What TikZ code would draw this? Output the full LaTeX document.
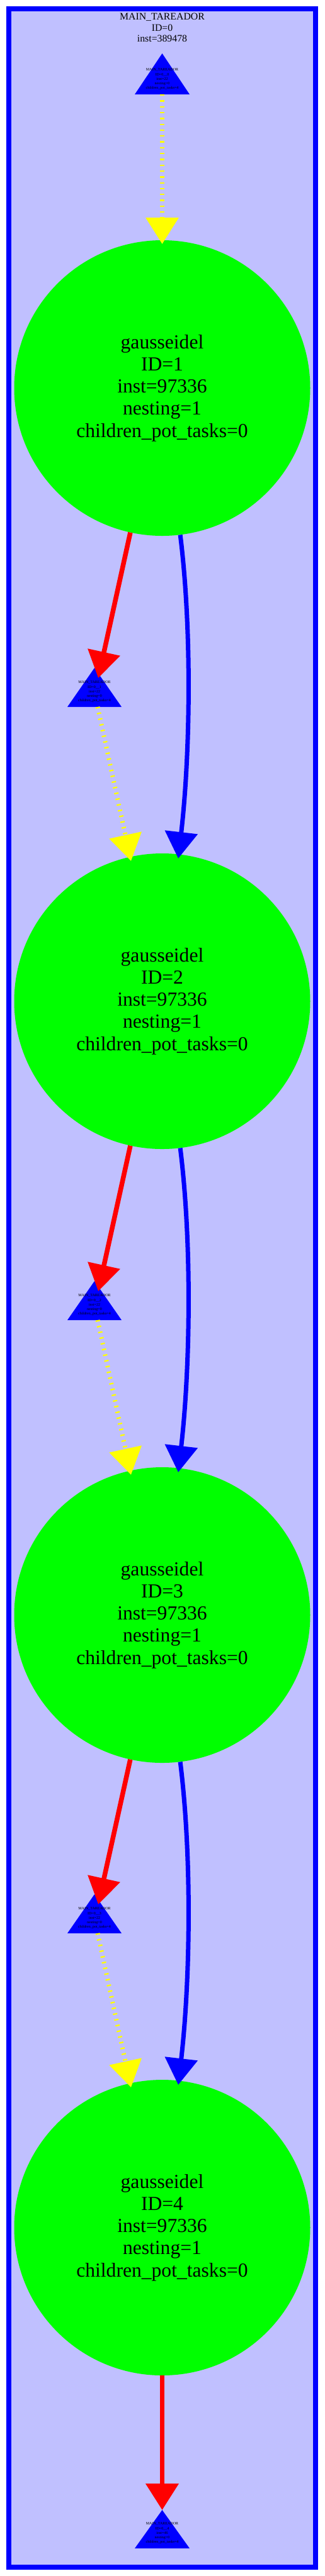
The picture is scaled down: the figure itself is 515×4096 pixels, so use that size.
\documentclass[tikz,border=0pt]{standalone}
\usepackage{fontspec}
\setmainfont{Liberation Serif}
\usetikzlibrary{arrows.meta}
\definecolor{lav}{RGB}{192,192,255}
\definecolor{pblue}{RGB}{0,0,255}
\definecolor{pgreen}{RGB}{0,255,0}
\definecolor{pred}{RGB}{255,0,0}
\definecolor{pyellow}{RGB}{255,255,0}
\begin{document}
\begin{tikzpicture}[x=1pt,y=-1pt,
 task/.style={circle, fill=pgreen, minimum size=470pt, inner sep=0pt, align=center, font=\fontsize{31.6}{35.3}\selectfont},
 trilabel/.style={inner sep=0pt, align=center, font=\fontsize{6}{7.3}\selectfont},
 tri/.style={fill=pblue},
 tipstyle/.style={-{Triangle[width=51pt,length=42pt]}},
 ctrl/.style={pred, line width=7.5pt, tipstyle},
 dep/.style={pblue, line width=7pt, tipstyle},
 sync/.style={pyellow, line width=7pt, dash pattern=on 2.3pt off 7pt, tipstyle},
]
\useasboundingbox (0,0) rectangle (515,4096);
\fill[white] (0,0) rectangle (515,4096);
\draw[pblue, line width=8pt, fill=lav] (14,14) rectangle (501,4082);
\node[inner sep=0pt, align=center, font=\fontsize{15.8}{17.5}\selectfont] (title) at (257.5,44) {MAIN\_TAREADOR\\ID=0\\inst=389478};

% triangles (MAIN_TAREADOR fragments)
\fill[tri] (214,150) -- (257.5,85) -- (301,150) -- cycle;
\fill[tri] (107,1124) -- (150,1062) -- (193,1124) -- cycle;
\fill[tri] (107,2099) -- (150,2037) -- (193,2099) -- cycle;
\fill[tri] (107,3074) -- (150,3012) -- (193,3074) -- cycle;
\fill[tri] (214,4052) -- (257.5,3991) -- (301,4052) -- cycle;
\node[trilabel] (t0) at (257.5,126) {MAIN\_TAREADOR\\ID=0\_\_0\\inst=22\\nesting=0\\children\_pot\_tasks=4};
\node[trilabel] (t1) at (150,1100) {MAIN\_TAREADOR\\ID=0\_\_1\\inst=22\\nesting=0\\children\_pot\_tasks=4};
\node[trilabel] (t2) at (150,2075) {MAIN\_TAREADOR\\ID=0\_\_2\\inst=22\\nesting=0\\children\_pot\_tasks=4};
\node[trilabel] (t3) at (150,3050) {MAIN\_TAREADOR\\ID=0\_\_3\\inst=22\\nesting=0\\children\_pot\_tasks=4};
\node[trilabel] (t4) at (257.5,4028) {MAIN\_TAREADOR\\ID=0\_\_4\\inst=46\\nesting=0\\children\_pot\_tasks=4};

% tasks
\node[task] (c1) at (257.5,617) {gausseidel\\ID=1\\inst=97336\\nesting=1\\children\_pot\_tasks=0};
\node[task] (c2) at (257.5,1592) {gausseidel\\ID=2\\inst=97336\\nesting=1\\children\_pot\_tasks=0};
\node[task] (c3) at (257.5,2568) {gausseidel\\ID=3\\inst=97336\\nesting=1\\children\_pot\_tasks=0};
\node[task] (c4) at (257.5,3542) {gausseidel\\ID=4\\inst=97336\\nesting=1\\children\_pot\_tasks=0};

% connector end points
\coordinate (t0b) at (257.5,150);
\coordinate (t1b) at (155,1124);
\coordinate (t2b) at (155,2099);
\coordinate (t3b) at (155,3074);
\coordinate (y1) at (257.5,388);
\coordinate (y2) at (208,1369);
\coordinate (y3) at (208,2345);
\coordinate (y4) at (208,3319);
\coordinate (r1) at (156,1078);
\coordinate (r2) at (156,2053);
\coordinate (r3) at (156,3028);
\coordinate (r4) at (257.5,3991);
\coordinate (b1) at (283,1365);
\coordinate (b2) at (283,2341);
\coordinate (b3) at (283,3315);

% connectors
\draw[sync] (t0b) -- (y1);
\draw[sync] (t1b) -- (y2);
\draw[sync] (t2b) -- (y3);
\draw[sync] (t3b) -- (y4);
\draw[ctrl] (c1) -- (r1);
\draw[ctrl] (c2) -- (r2);
\draw[ctrl] (c3) -- (r3);
\draw[ctrl] (c4) -- (r4);
\draw[dep] (c1.277.8) .. controls +(19,152) and +(19,-165) .. (b1);
\draw[dep] (c2.277.8) .. controls +(19,152) and +(19,-165) .. (b2);
\draw[dep] (c3.277.8) .. controls +(19,152) and +(19,-165) .. (b3);
\end{tikzpicture}
\end{document}
